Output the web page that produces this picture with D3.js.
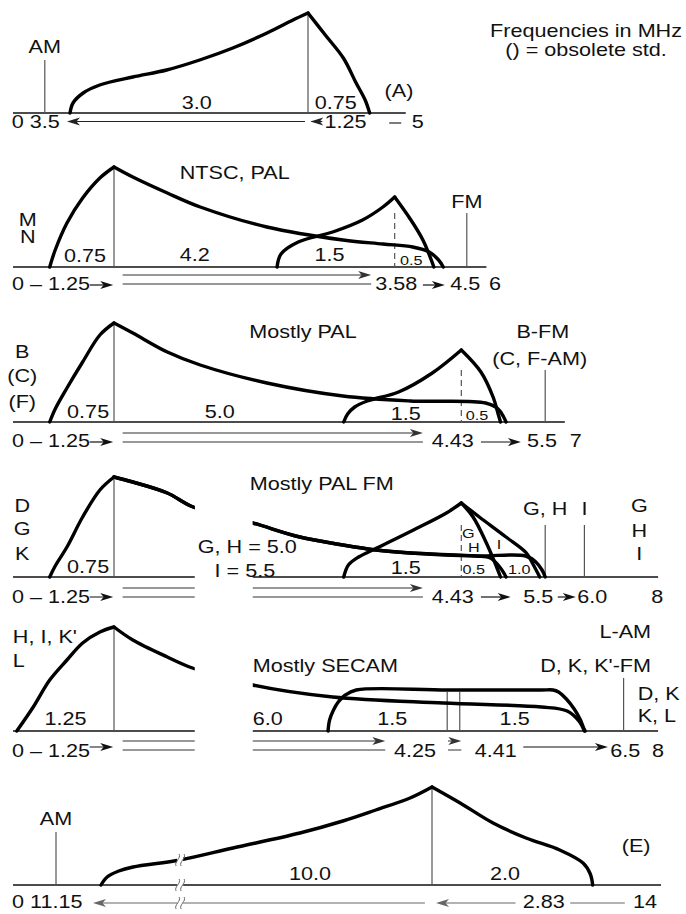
<!DOCTYPE html>
<html>
<head>
<meta charset="utf-8">
<script src="https://cdn.jsdelivr.net/npm/d3@7"></script>
<style>
  html, body { margin: 0; background: #fff; }
  svg { display: block; }
  text { font-family: "Liberation Sans", Arial, Helvetica, sans-serif; fill: #111; }
</style>
</head>
<body>
<svg id="chart" width="686" height="914"></svg>
<script>
// Frequencies in MHz from the lower channel edge; levels relative to the vision carrier.
// Spectrum shapes are given as [offset from their carrier (MHz), level].

// ---- System A (405 lines, 5 MHz channel) ----
const aVision = 3.75, aSound = 0.25, aAxisEnd = 5.05;
const aLumaLower = [[-3.165,0],[-3.125,0.10],[-2.99,0.20],[-2.77,0.28],[-2.33,0.36],[-1.88,0.43],[-1.44,0.53],[-1.0,0.65],[-0.545,0.80],[-0.2,0.93],[0,1]];
const aLumaUpper = [[0,1],[0.23,0.78],[0.47,0.55],[0.64,0.30],[0.76,0.13],[0.82,0]];
const aLabels = [["AM",0.25,0.6],["3.0",2.27,0.04],["0.75",4.12,0.04],["(A)",4.96,0.16]];
const aScaleTexts = [["0 3.5",-0.19,"start"],["1.25",3.97,"start"],["5",5.21,"middle"]];
const aArrows = [[3.71,0.545],[3.94,3.78]];
const aRules = [[4.83,4.99]];

// ---- Systems M, N (6 MHz) ----
const mnVision = 1.25, mnSubcarrier = 4.83, mnSound = 5.75, mnAxisEnd = 6;
const mnLumaLower = [[-0.82,0],[-0.75,0.17],[-0.60,0.44],[-0.40,0.69],[-0.18,0.89],[0,1]];
const mnLumaUpper = [[0,1],[0.24,0.90],[0.68,0.74],[1.10,0.60],[1.95,0.40],[2.92,0.27],[3.43,0.23],[3.81,0.20],[4.02,0.15],[4.14,0.07],[4.2,0]];
const mnChromaLower = [[-1.5,0],[-1.45,0.13],[-1.23,0.25],[-0.79,0.35],[-0.41,0.47],[-0.15,0.60],[0,0.70]];
const mnChromaUpper = [[0,0.70],[0.19,0.49],[0.36,0.27],[0.5,0]];
const mnLabels = [["M",0.15,0.41],["N",0.15,0.24],["NTSC, PAL",2.79,0.88],["0.75",0.88,0.05],["4.2",2.28,0.06],["1.5",4.0,0.06],["FM",5.75,0.59]];
const mnSmall = [["0.5",5.04,0.02]];
const mnScaleTexts = [["0 \u2013 1.25",-0.05,"start"],["3.58",4.85],["4.5",5.73],["6",6.11]];
const mnArrows = [[0.94,1.24],[5.19,5.47]];
const mnDouble = [1.36,4.53];

// ---- Systems B, (C), (F) (7 MHz) ----
const bgVision = 1.25, bgSubcarrier = 5.68, bgSound = 6.75, bgAxisEnd = 7;
const bgLumaLower = [[-0.82,0],[-0.75,0.13],[-0.60,0.34],[-0.40,0.60],[-0.18,0.87],[0,0.99]];
const bgLumaUpper = [[0,0.99],[0.24,0.89],[0.68,0.70],[1.10,0.57],[1.95,0.39],[2.92,0.26],[3.78,0.21],[4.74,0.19],[4.9,0.13],[4.97,0.05],[5.0,0]];
const bgChromaLower = [[-1.5,0],[-1.45,0.08],[-1.36,0.15],[-1.2,0.21],[-0.8,0.30],[-0.37,0.49],[0,0.72]];
const bgChromaUpper = [[0,0.72],[0.25,0.50],[0.41,0.24],[0.47,0.08],[0.5,0]];
const bgLabels = [["B",0.08,0.64],["(C)",0.08,0.40],["(F)",0.08,0.14],["Mostly PAL",3.66,0.84],["0.75",0.92,0.04],["5.0",2.6,0.04],["1.5",4.97,0.02],["B-FM",6.72,0.84],["(C, F-AM)",6.68,0.57]];
const bgSmall = [["0.5",5.88,0.02]];
const bgScaleTexts = [["0 \u2013 1.25",-0.05,"start"],["4.43",5.57],["5.5",6.71],["7",7.14]];
const bgArrows = [[0.94,1.24],[5.93,6.44]];
const bgDouble = [1.36,5.19];

// ---- Systems D, G, K, H, I (8 MHz, FM sound) ----
const dkVision = 1.25, dkSubcarrier = 5.68, dkSoundGH = 6.75, dkSoundI = 7.25, dkAxisEnd = 8.19;
const dkLumaLower = [[-0.82,0],[-0.75,0.11],[-0.60,0.30],[-0.40,0.60],[-0.18,0.87],[0,1]];
const dkLumaUpperGH = [[0,1],[0.24,0.95],[0.68,0.84],[1.01,0.70],[1.77,0.54],[2.37,0.40],[2.92,0.32],[3.34,0.27],[3.78,0.24],[4.62,0.21],[4.80,0.19],[4.92,0.10],[4.98,0.03],[5.0,0]];
const dkLumaUpperI = [[0,1],[0.24,0.95],[0.68,0.84],[1.01,0.70],[1.77,0.54],[2.37,0.40],[2.92,0.32],[3.34,0.27],[3.78,0.24],[4.62,0.21],[5.25,0.21],[5.38,0.15],[5.46,0.07],[5.5,0]];
const dkChromaLower = [[-1.5,0],[-1.44,0.12],[-1.31,0.20],[-1.05,0.30],[-0.61,0.47],[-0.19,0.64],[0,0.74]];
const dkChromaUpperGH = [[0,0.74],[0.15,0.60],[0.32,0.34],[0.45,0.10],[0.5,0]];
const dkChromaUpperI = [[0,0.74],[0.23,0.60],[0.57,0.40],[0.83,0.24],[0.92,0.12],[1.0,0]];
const dkLabels = [["D",0.08,0.65],["G",0.08,0.42],["K",0.08,0.17],["Mostly PAL FM",3.9,0.87],["0.75",0.92,0.04],["G, H = 5.0",2.95,0.24],["I = 5.5",2.92,0.0],["1.5",4.97,0.03],["G, H",6.75,0.62],["I",7.25,0.62],["G",7.95,0.65],["H",7.95,0.40],["I",7.95,0.17]];
const dkSmall = [["0.5",5.84,0.03],["1.0",6.42,0.03],["G",5.77,0.39],["H",5.84,0.25],["I",6.16,0.28]];
const dkScaleTexts = [["0 \u2013 1.25",-0.05,"start"],["4.43",5.57],["5.5",6.66],["6.0",7.35],["8",8.18]];
const dkArrows = [[0.94,1.24],[5.93,6.31],[6.91,7.14]];
const dkDouble = [1.36,5.19];
const dkGap = [2.28,3.02];

// ---- Systems L, D, K, K' (SECAM, 8 MHz) ----
const lVision = 1.25, lSubcarriers = [5.5, 5.66], lSound = 7.75, lAxisEnd = 8.19;
const lLumaLower = [[-1.24,0],[-1.03,0.24],[-0.82,0.51],[-0.60,0.71],[-0.40,0.88],[-0.18,0.99],[0,1.04]];
const lLumaUpper = [[0,1.04],[0.24,0.91],[0.68,0.74],[1.0,0.63],[1.77,0.46],[2.79,0.34],[4.2,0.28],[5.45,0.24],[5.78,0.20],[5.93,0.10],[6.0,0]];
const lChroma = [[-1.52,0],[-1.5,0.11],[-1.45,0.21],[-1.39,0.29],[-1.3,0.36],[-1.16,0.41],[0,0.41],[1.2,0.41],[1.35,0.41],[1.42,0.39],[1.52,0.32],[1.62,0.22],[1.7,0.11],[1.74,0.03],[1.76,0]];
const lLabels = [["H, I, K'",-0.04,0.88,"start"],["L",-0.04,0.64,"start"],["1.25",0.63,0.06],["Mostly SECAM",3.02,0.59,"start"],["6.0",3.02,0.06,"start"],["1.5",4.8,0.06],["1.5",6.36,0.06],["L-AM",8.1,0.93,"end"],["D, K, K'-FM",8.1,0.59,"end"],["D, K",7.93,0.31,"start"],["K, L",7.93,0.09,"start"]];
const lScaleTexts = [["0 \u2013 1.25",-0.05,"start"],["4.25",5.09],["4.41",6.12],["6.5",7.77],["8",8.19]];
const lArrows = [[0.94,1.24],[6.47,7.55]];
const lDouble = [[1.36,4.71],[5.51,5.68]];
const lGap = [2.28,3.02];

// ---- System E (819 lines, 14 MHz) ----
const eVision = 11.15, eSound = 0, eAxisEnd = 14;
const eLumaLower = [[-10.25,0],[-10.06,0.08],[-9.7,0.14],[-9.26,0.18],[-7.8,0.25],[-6.16,0.37],[-4.09,0.52],[-2.76,0.64],[-1.74,0.75],[-0.68,0.87],[0,0.98]];
const eLumaUpper = [[0,0.98],[0.35,0.82],[0.76,0.62],[1.17,0.47],[1.59,0.35],[1.88,0.22],[1.97,0.11],[2.0,0]];
const eLabels = [["AM",0,0.6],["10.0",7.37,0.05],["2.0",12.06,0.05],["(E)",13.69,0.33]];
const eScaleTexts = [["0 11.15",-0.88,"start"],["2.83",12.54],["14",13.8]];
const eArrows = [[10.93,0.74],[12.19,11.2]];
const eRules = [[12.87,13.55]];
const eBreak = 3.35;

// ================= drawing =================
const STRETCH = 1.2, FS = 18, FS_SMALL = 13.5, LEFT = 13, W = 686;
const svg = d3.select("#chart");
const defs = svg.append("defs");

const mainX = d3.scaleLinear().domain([0, 8]).range([16, 643.2]);
const aX = d3.scaleLinear().domain([0, 5]).range([26, 402]);
const eX = d3.scaleLinear().domain([0, 0.9, 11.15, 14]).range([56, 101, 432, 661]);

function makePanel(base, x, gap) {
  const y = d3.scaleLinear().domain([0, 1]).range([base, base - 100]);
  const g = svg.append("g");
  let clip = null;
  if (gap) {
    const id = "gap" + base;
    const cp = defs.append("clipPath").attr("id", id);
    const x1 = x(gap[0]), x2 = x(gap[1]);
    const top = y(1.3), h = y(-0.45) - y(1.3);
    cp.append("rect").attr("x", 0).attr("y", top).attr("width", x1).attr("height", h);
    cp.append("rect").attr("x", x2).attr("y", top).attr("width", W - x2).attr("height", h);
    clip = `url(#${id})`;
  }
  const art = g.append("g");
  if (clip) art.attr("clip-path", clip);
  return { x, y, g, art };
}

function thick(p, pts, origin) {
  const line = d3.line()
    .x(d => p.x(origin + d[0]))
    .y(d => p.y(d[1]))
    .curve(d3.curveCatmullRom.alpha(0.5));
  p.art.append("path").attr("d", line(pts))
    .attr("fill", "none").attr("stroke", "#000").attr("stroke-width", 3.4)
    .attr("stroke-linecap", "round").attr("stroke-linejoin", "round");
}

function carrier(p, f, top, dashed) {
  const l = p.art.append("line")
    .attr("x1", p.x(f)).attr("x2", p.x(f))
    .attr("y1", p.y(top)).attr("y2", p.y(0))
    .attr("stroke", "#555").attr("stroke-width", 1.2);
  if (dashed) l.attr("stroke-dasharray", "6,4");
}

function baseline(p, end) {
  p.art.append("line").attr("x1", LEFT).attr("x2", p.x(end))
    .attr("y1", p.y(0)).attr("y2", p.y(0))
    .attr("stroke", "#111").attr("stroke-width", 1.4);
}

function text(p, t, f, lev, anchor, size) {
  p.g.append("text")
    .attr("transform", `translate(${p.x(f)},${p.y(lev)}) scale(${STRETCH},1)`)
    .attr("text-anchor", anchor || "middle")
    .attr("font-size", size || FS)
    .text(t);
}

function rule(p, from, to, lev, color) {
  p.art.append("line").attr("x1", p.x(from)).attr("x2", p.x(to))
    .attr("y1", p.y(lev)).attr("y2", p.y(lev))
    .attr("stroke", color).attr("stroke-width", 1.2);
}

function arrow(p, from, to, lev, color) {
  const x1 = p.x(from), x2 = p.x(to), y = p.y(lev), dir = x2 > x1 ? 1 : -1;
  p.art.append("line").attr("x1", x1).attr("x2", x2 - dir * 6)
    .attr("y1", y).attr("y2", y).attr("stroke", color).attr("stroke-width", 1.2);
  p.art.append("path")
    .attr("d", `M${x2},${y}L${x2 - dir * 13},${y - 4}L${x2 - dir * 9.5},${y}L${x2 - dir * 13},${y + 4}Z`)
    .attr("fill", color);
}

function doubleLine(p, span, levTop, levBottom) {
  arrow(p, span[0], span[1], levTop, "#333");
  rule(p, span[0], span[1], levBottom, "#333");
}

function breakMark(p, f, lev) {
  const cx = p.x(f), cy = p.y(lev);
  p.g.append("rect").attr("x", cx - 3).attr("y", cy - 5).attr("width", 6).attr("height", 10).attr("fill", "#fff");
  [-2.5, 2.5].forEach(dx => {
    p.g.append("path")
      .attr("d", `M${cx + dx + 1.5},${cy - 6}C${cx + dx + 4},${cy - 2} ${cx + dx - 4},${cy + 2} ${cx + dx - 1.5},${cy + 6}`)
      .attr("fill", "none").attr("stroke", "#666").attr("stroke-width", 1);
  });
}

function interp(pts, off) {
  for (let i = 1; i < pts.length; i++) {
    if (off <= pts[i][0]) {
      const t = (off - pts[i - 1][0]) / (pts[i][0] - pts[i - 1][0]);
      return pts[i - 1][1] + t * (pts[i][1] - pts[i - 1][1]);
    }
  }
  return pts[pts.length - 1][1];
}

// ---------- System A ----------
const pA = makePanel(113, aX);
baseline(pA, aAxisEnd);
carrier(pA, aSound, 0.53);
carrier(pA, aVision, 1);
thick(pA, aLumaLower, aVision);
thick(pA, aLumaUpper, aVision);
aLabels.forEach(d => text(pA, d[0], d[1], d[2]));
aScaleTexts.forEach(d => text(pA, d[0], d[1], -0.15, d[2]));
aArrows.forEach(d => arrow(pA, d[0], d[1], -0.085, "#222"));
aRules.forEach(d => rule(pA, d[0], d[1], -0.1, "#222"));

// ---------- M, N ----------
const pB = makePanel(267, mainX);
baseline(pB, mnAxisEnd);
carrier(pB, mnVision, 1);
carrier(pB, mnSubcarrier, 0.54, true);
carrier(pB, mnSound, 0.54);
thick(pB, mnLumaLower, mnVision);
thick(pB, mnLumaUpper, mnVision);
thick(pB, mnChromaLower, mnSubcarrier);
thick(pB, mnChromaUpper, mnSubcarrier);
mnLabels.forEach(d => text(pB, d[0], d[1], d[2]));
mnSmall.forEach(d => text(pB, d[0], d[1], d[2], "middle", FS_SMALL));
mnScaleTexts.forEach(d => text(pB, d[0], d[1], -0.23, d[2]));
mnArrows.forEach(d => arrow(pB, d[0], d[1], -0.18, "#111"));
doubleLine(pB, mnDouble, -0.08, -0.17);

// ---------- B, (C), (F) ----------
const pC = makePanel(422, mainX);
baseline(pC, bgAxisEnd);
carrier(pC, bgVision, 0.99);
carrier(pC, bgSubcarrier, 0.52, true);
carrier(pC, bgSound, 0.52);
thick(pC, bgLumaLower, bgVision);
thick(pC, bgLumaUpper, bgVision);
thick(pC, bgChromaLower, bgSubcarrier);
thick(pC, bgChromaUpper, bgSubcarrier);
bgLabels.forEach(d => text(pC, d[0], d[1], d[2]));
bgSmall.forEach(d => text(pC, d[0], d[1], d[2], "middle", FS_SMALL));
bgScaleTexts.forEach(d => text(pC, d[0], d[1], -0.25, d[2]));
bgArrows.forEach(d => arrow(pC, d[0], d[1], -0.20, "#111"));
doubleLine(pC, bgDouble, -0.11, -0.20);

// ---------- D, G, K (H, I) ----------
const pD = makePanel(577, mainX, dkGap);
baseline(pD, dkAxisEnd);
carrier(pD, dkVision, 1);
carrier(pD, dkSubcarrier, 0.52, true);
carrier(pD, dkSoundGH, 0.52);
carrier(pD, dkSoundI, 0.52);
thick(pD, dkLumaLower, dkVision);
thick(pD, dkLumaUpperGH, dkVision);
thick(pD, dkLumaUpperI, dkVision);
thick(pD, dkChromaLower, dkSubcarrier);
thick(pD, dkChromaUpperGH, dkSubcarrier);
thick(pD, dkChromaUpperI, dkSubcarrier);
dkLabels.forEach(d => text(pD, d[0], d[1], d[2]));
dkSmall.forEach(d => text(pD, d[0], d[1], d[2], "middle", FS_SMALL));
dkScaleTexts.forEach(d => text(pD, d[0], d[1], -0.26, d[2]));
dkArrows.forEach(d => arrow(pD, d[0], d[1], -0.20, "#111"));
doubleLine(pD, dkDouble, -0.11, -0.20);

// ---------- SECAM ----------
const pE = makePanel(731, mainX, lGap);
baseline(pE, lAxisEnd);
carrier(pE, lVision, 1.04);
lSubcarriers.forEach(f => carrier(pE, f, 0.39));
carrier(pE, lSound, 0.53);
thick(pE, lLumaLower, lVision);
thick(pE, lLumaUpper, lVision);
thick(pE, lChroma, lSubcarriers[0]);
lLabels.forEach(d => text(pE, d[0], d[1], d[2], d[3]));
lScaleTexts.forEach(d => text(pE, d[0], d[1], -0.26, d[2]));
lArrows.forEach(d => arrow(pE, d[0], d[1], -0.16, "#111"));
lDouble.forEach(s => doubleLine(pE, s, -0.10, -0.19));

// ---------- System E ----------
const pF = makePanel(885, eX);
baseline(pF, eAxisEnd);
carrier(pF, eSound, 0.53);
carrier(pF, eVision, 0.98);
thick(pF, eLumaLower, eVision);
thick(pF, eLumaUpper, eVision);
eLabels.forEach(d => text(pF, d[0], d[1], d[2]));
eScaleTexts.forEach(d => text(pF, d[0], d[1], -0.23, d[2]));
eArrows.forEach(d => arrow(pF, d[0], d[1], -0.18, "#666"));
eRules.forEach(d => rule(pF, d[0], d[1], -0.18, "#666"));
breakMark(pF, eBreak, interp(eLumaLower, eBreak - eVision));
breakMark(pF, eBreak, 0);
breakMark(pF, eBreak, -0.18);

// ---------- note ----------
svg.append("text").attr("transform", `translate(586,37) scale(${STRETCH},1)`)
  .attr("text-anchor", "middle").attr("font-size", FS).text("Frequencies in MHz");
svg.append("text").attr("transform", `translate(586,56) scale(${STRETCH},1)`)
  .attr("text-anchor", "middle").attr("font-size", FS).text("() = obsolete std.");
</script>
</body>
</html>
